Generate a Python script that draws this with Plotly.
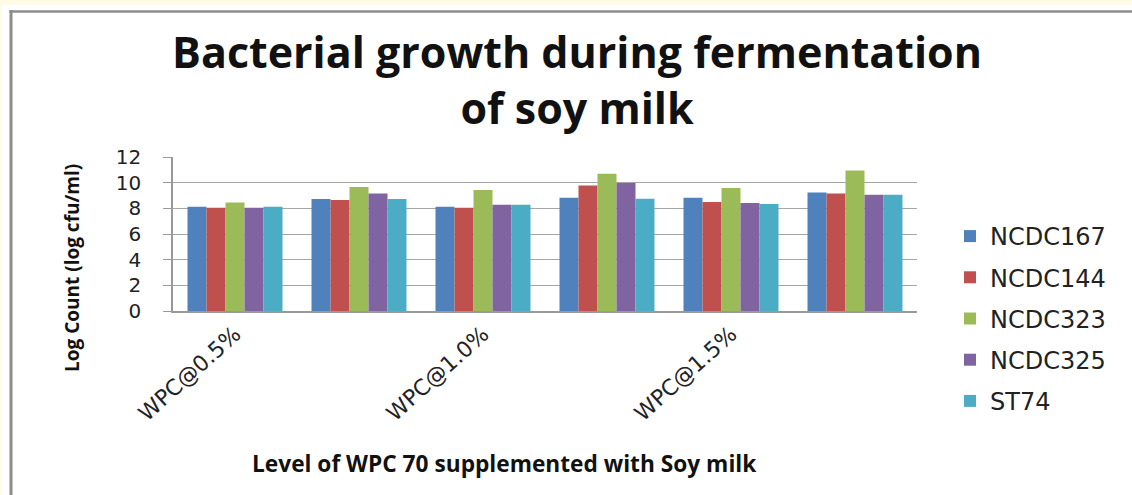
import plotly.graph_objects as go

# ---- data ----
categories = ["WPC@0.5% a", "WPC@0.5% b", "WPC@1.0% a", "WPC@1.0% b", "WPC@1.5% a", "WPC@1.5% b"]
tick_labels = ["WPC@0.5%", "", "WPC@1.0%", "", "WPC@1.5%", ""]
series_names = ["NCDC167", "NCDC144", "NCDC323", "NCDC325", "ST74"]
ncdc167 = [8.12, 8.72, 8.12, 8.83, 8.83, 9.24]
ncdc144 = [8.04, 8.64, 8.04, 9.77, 8.49, 9.16]
ncdc323 = [8.46, 9.66, 9.43, 10.70, 9.58, 10.94]
ncdc325 = [8.04, 9.16, 8.28, 9.97, 8.41, 9.06]
st74 = [8.12, 8.72, 8.28, 8.75, 8.33, 9.06]
y_ticks = [0, 2, 4, 6, 8, 10, 12]

colors = ["#4F81BD", "#C0504D", "#9BBB59", "#8064A2", "#4BACC6"]
values = [ncdc167, ncdc144, ncdc323, ncdc325, st74]

W, H = 1132, 495
L, R, T, B = 173, 917, 157, 311  # plot area in pixels


def px(x):
    return (x - L) / (R - L)


def py(y):
    return (B - y) / (B - T)


fig = go.Figure()
for name, vals, col in zip(series_names, values, colors):
    fig.add_trace(go.Bar(
        x=categories, y=vals, name=name, marker=dict(color=col, line=dict(width=0)),
        legendgroup=name,
    ))

tick_font = dict(family="DejaVu Sans", size=20, color="#222222")
xtick_font = dict(family="DejaVu Sans", size=22, color="#222222")
bold_font = "Open Sans"

fig.update_layout(
    width=W, height=H,
    margin=dict(l=L, r=W - R, t=T, b=H - B, autoexpand=False),
    paper_bgcolor="white", plot_bgcolor="white",
    barmode="group", bargap=0.234, bargroupgap=0,
    showlegend=True,
    title=dict(
        text="Bacterial growth during fermentation<br>of soy milk",
        x=577 / W, xanchor="center", xref="container",
        y=1 - 68 / H, yanchor="top", yref="container",
        font=dict(family=bold_font, size=43, color="#111111", weight="bold"),
    ),
    legend=dict(
        x=px(950), xanchor="left", xref="paper",
        y=1 - 214 / H, yanchor="top", yref="container",
        font=dict(family="DejaVu Sans", size=24, color="#222222"),
        tracegroupgap=7, bgcolor="rgba(0,0,0,0)",
    ),
    xaxis=dict(
        tickmode="array", tickvals=categories, ticktext=tick_labels,
        tickangle=-42, tickfont=xtick_font, ticks="",
        showline=True, linecolor="#999999", linewidth=1.5,
        showgrid=False,
    ),
    yaxis=dict(
        range=[0, 12], tickmode="array", tickvals=y_ticks,
        tickfont=tick_font, ticks="outside", ticklen=8, tickcolor="#999999",
        ticklabelstandoff=18,
        showline=True, linecolor="#999999", linewidth=1.5,
        showgrid=True, gridcolor="#a6a6a6", gridwidth=1,
        zeroline=False,
    ),
    annotations=[
        dict(text="Log Count (log cfu/ml)", textangle=-90, xref="paper", yref="paper",
             x=px(72), y=py(268), xanchor="center", yanchor="middle", showarrow=False,
             font=dict(family=bold_font, size=19, color="#111111", weight="bold")),
        dict(text="Level of WPC 70 supplemented with Soy milk", xref="paper", yref="paper",
             x=px(504), y=py(463), xanchor="center", yanchor="middle", showarrow=False,
             font=dict(family=bold_font, size=22.7, color="#111111", weight="bold")),
    ],
    shapes=[
        # cream page strip at top and left
        dict(type="rect", xref="paper", yref="paper", x0=px(0), x1=px(W), y0=py(0), y1=py(5),
             fillcolor="#FFFBE6", line=dict(width=0), layer="below"),
        dict(type="rect", xref="paper", yref="paper", x0=px(0), x1=px(2), y0=py(0), y1=py(H),
             fillcolor="#FFFBE6", line=dict(width=0), layer="below"),
        # grey frame lines
        dict(type="line", xref="paper", yref="paper", x0=px(9.5), x1=px(W), y0=py(11.5), y1=py(11.5),
             line=dict(color="#8c8c8c", width=2.5)),
        dict(type="line", xref="paper", yref="paper", x0=px(11), x1=px(11), y0=py(10), y1=py(H),
             line=dict(color="#8c8c8c", width=3)),
    ],
)

fig.write_html("out.html")
